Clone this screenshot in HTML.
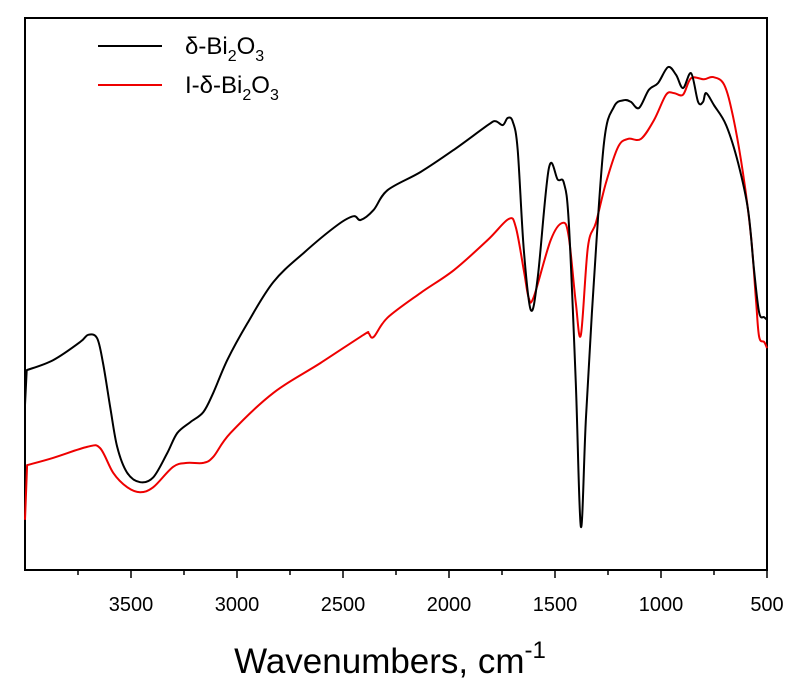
<!DOCTYPE html>
<html><head><meta charset="utf-8"><style>
body{margin:0;background:#fff;}
svg{display:block;font-family:"Liberation Sans",Arial,sans-serif;}
</style></head><body>
<svg id="chart" width="800" height="689">
<rect x="25" y="18" width="742" height="552" fill="none" stroke="#000" stroke-width="2"/>
<g id="xticks"></g>
<g id="series"></g>
<text x="390" y="673" font-size="35" text-anchor="middle">Wavenumbers, cm<tspan dy="-15" font-size="24">-1</tspan></text>
<g>
<line x1="98" y1="46" x2="162" y2="46" stroke="#000" stroke-width="2"/>
<text x="185" y="54" font-size="24">δ-Bi<tspan font-size="16" dy="7">2</tspan><tspan dy="-7">O</tspan><tspan font-size="16" dy="7">3</tspan></text>
<line x1="98" y1="85" x2="162" y2="85" stroke="#e00" stroke-width="2"/>
<text x="185" y="93" font-size="24">I-δ-Bi<tspan font-size="16" dy="7">2</tspan><tspan dy="-7">O</tspan><tspan font-size="16" dy="7">3</tspan></text>
</g>
</svg>
<script>
const xTicks=[3500,3000,2500,2000,1500,1000,500];
const minorTicks=[3750,3250,2750,2250,1750,1250,750];
const blackW=[4000,3992,3868,3740,3702,3660,3632,3598,3565,3518,3457,3395,3329,3282,3220,3159,3112,3046,2951,2828,2687,2526,2450,2417,2356,2290,2134,1978,1817,1780,1746,1723,1699,1676,1647,1614,1581,1529,1487,1458,1435,1402,1378,1354,1317,1269,1222,1175,1142,1104,1057,1014,967,929,896,858,825,802,787,750,693,636,589,561,537,513,500];
const blackT=[29.9,36.2,38.0,41.3,42.6,42.0,37.5,29.5,22.3,17.6,15.9,16.8,21.2,24.8,26.8,28.6,32.1,38.0,44.7,52.2,57.4,62.5,64.1,63.4,65.2,68.8,72.1,76.1,80.6,81.3,80.6,81.9,81.2,76.1,58.0,47.1,53.1,72.8,70.7,70.1,62.9,33.9,7.8,27.7,52.0,77.4,83.9,85.1,84.8,83.7,87.0,88.2,91.1,89.7,87.3,90.0,84.8,84.8,86.4,84.2,80.6,73.7,65.2,54.3,46.6,45.8,45.3];
const redW=[4000,3990,3868,3707,3646,3584,3518,3457,3395,3301,3235,3159,3112,3031,2828,2606,2403,2380,2356,2290,2134,1978,1817,1718,1685,1647,1624,1600,1520,1463,1435,1402,1378,1345,1307,1260,1203,1156,1095,1033,976,939,896,858,797,754,702,660,613,575,551,537,513,500];
const redT=[9.1,19.0,20.3,22.3,22.1,17.6,15.0,14.1,15.0,18.7,19.4,19.4,20.5,24.8,32.1,37.5,42.6,42.9,42.2,45.7,50.2,54.3,59.8,63.6,62.1,54.3,49.3,49.5,59.8,62.9,60.3,48.4,42.6,58.5,62.9,70.1,76.6,78.1,78.1,81.5,86.1,86.4,86.1,89.1,88.9,89.3,87.9,82.1,71.9,60.3,48.4,42.2,41.3,40.2];
const NS="http://www.w3.org/2000/svg";
const X0=25,X1=767,Y0=570,Y1=18;
function xs(w){return X0+(4000-w)/3500*(X1-X0);}
function ys(t){return Y0-t/100*(Y0-Y1);}
const gx=document.getElementById('xticks');
xTicks.forEach(v=>{
  const l=document.createElementNS(NS,'line');
  l.setAttribute('x1',xs(v));l.setAttribute('x2',xs(v));l.setAttribute('y1',Y0);l.setAttribute('y2',Y0+8);
  l.setAttribute('stroke','#000');l.setAttribute('stroke-width','1.5');
  
  
  gx.appendChild(l);
  const t=document.createElementNS(NS,'text');
  t.setAttribute('x',xs(v));t.setAttribute('y',Y0+41);t.setAttribute('font-size','20');t.setAttribute('text-anchor','middle');
  t.textContent=v;
  
  
  gx.appendChild(t);
});
minorTicks.forEach(v=>{
  const l=document.createElementNS(NS,'line');
  l.setAttribute('x1',xs(v));l.setAttribute('x2',xs(v));l.setAttribute('y1',Y0);l.setAttribute('y2',Y0+5);
  l.setAttribute('stroke','#000');l.setAttribute('stroke-width','1.5');
  
  
  gx.appendChild(l);
});
const gs=document.getElementById('series');
function draw(W,T,color,name){
  const P=W.map((w,i)=>[xs(w),ys(T[i])]);
  let d='M'+P[0][0].toFixed(1)+','+P[0][1].toFixed(1)+'L'+P[1][0].toFixed(1)+','+P[1][1].toFixed(1);
  for(let i=1;i<P.length-1;i++){
    const p0=P[Math.max(1,i-1)],p1=P[i],p2=P[i+1],p3=P[Math.min(P.length-1,i+2)];
    const c1=[p1[0]+(p2[0]-p0[0])/6,p1[1]+(p2[1]-p0[1])/6];
    const c2=[p2[0]-(p3[0]-p1[0])/6,p2[1]-(p3[1]-p1[1])/6];
    d+='C'+c1.map(v=>v.toFixed(1)).join(',')+' '+c2.map(v=>v.toFixed(1)).join(',')+' '+p2[0].toFixed(1)+','+p2[1].toFixed(1);
  }
  const p=document.createElementNS(NS,'path');
  p.setAttribute('d',d);
  p.setAttribute('fill','none');p.setAttribute('stroke',color);p.setAttribute('stroke-width','2');p.setAttribute('stroke-linejoin','round');
  
  
  gs.appendChild(p);
}
draw(redW,redT,'#e00','series-i-delta-bi2o3');
draw(blackW,blackT,'#000','series-delta-bi2o3');
</script>
</body></html>
